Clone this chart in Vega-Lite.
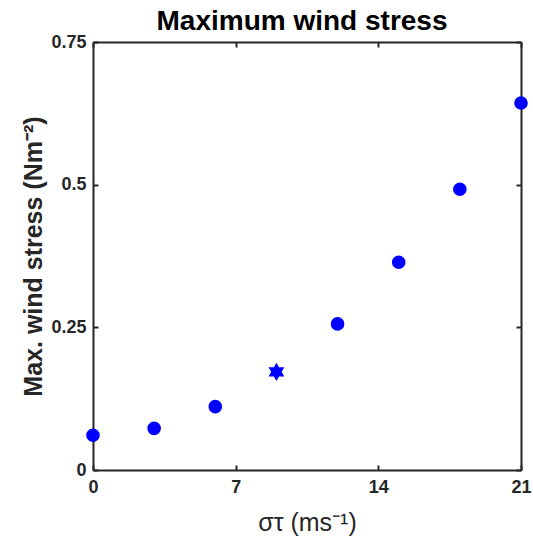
{
  "$schema": "https://vega.github.io/schema/vega-lite/v6.json",
  "width": 428,
  "height": 428,
  "autosize": {"type": "none"},
  "padding": {"left": 93, "top": 42, "right": 12, "bottom": 80},
  "background": "white",
  "title": {"text": "Maximum wind stress", "font": "Liberation Sans", "fontSize": 28, "fontWeight": "bold", "color": "black", "anchor": "middle", "offset": -3, "dx": -5},
  "config": {
    "view": {"stroke": null},
    "axis": {"domainColor": "#262626", "domainWidth": 2, "tickColor": "#262626", "tickWidth": 2, "tickSize": -5, "grid": false, "labelFlush": false,
      "labelFont": "Liberation Sans", "labelFontSize": 18, "labelFontWeight": "bold", "labelColor": "#262626",
      "titleFont": "Liberation Sans", "titleColor": "#262626"}
  },
  "data": {"values": [
    {"sigma": 0, "stress": 0.061, "marker": "circle"},
    {"sigma": 3, "stress": 0.073, "marker": "circle"},
    {"sigma": 6, "stress": 0.111, "marker": "circle"},
    {"sigma": 9, "stress": 0.172, "marker": "star"},
    {"sigma": 12, "stress": 0.256, "marker": "circle"},
    {"sigma": 15, "stress": 0.364, "marker": "circle"},
    {"sigma": 18, "stress": 0.492, "marker": "circle"},
    {"sigma": 21, "stress": 0.643, "marker": "circle"}
  ]},
  "layer": [
    {
      "transform": [{"filter": "datum.marker === 'circle'"}],
      "mark": {"type": "point", "shape": "circle", "filled": true, "color": "#0000ff", "opacity": 1, "size": 185, "clip": false},
      "encoding": {
        "x": {"field": "sigma", "type": "quantitative", "scale": {"domain": [0, 21], "nice": false, "zero": false},
          "axis": {"orient": "bottom", "values": [0, 7, 14, 21], "labelFontSize": 18, "labelFlush": false, "labelPadding": 13, "title": "στ (ms⁻¹)", "titleFontSize": 25, "titleFontWeight": "normal", "titlePadding": 14}},
        "y": {"field": "stress", "type": "quantitative", "scale": {"domain": [0, 0.75], "nice": false, "zero": false},
          "axis": {"orient": "left", "values": [0, 0.25, 0.5, 0.75], "labelFontSize": 18, "labelFlush": false, "labelExpr": "datum.value", "labelPadding": 12, "title": "Max. wind stress (Nm⁻²)", "titleFontSize": 25, "titleFontWeight": "bold", "titlePadding": 4}}
      }
    },
    {
      "transform": [{"filter": "datum.marker === 'star'"}],
      "mark": {"type": "point", "filled": true, "color": "#0000ff", "opacity": 1, "size": 330, "clip": false,
        "shape": "M0,-1L0.289,-0.5L0.866,-0.5L0.577,0L0.866,0.5L0.289,0.5L0,1L-0.289,0.5L-0.866,0.5L-0.577,0L-0.866,-0.5L-0.289,-0.5Z"},
      "encoding": {
        "x": {"field": "sigma", "type": "quantitative", "scale": {"domain": [0, 21], "nice": false, "zero": false},
          "axis": {"orient": "top", "values": [0, 7, 14, 21], "labels": false, "title": null}},
        "y": {"field": "stress", "type": "quantitative", "scale": {"domain": [0, 0.75], "nice": false, "zero": false},
          "axis": {"orient": "right", "values": [0, 0.25, 0.5, 0.75], "labels": false, "title": null}}
      }
    }
  ],
  "resolve": {"axis": {"x": "independent", "y": "independent"}}
}
